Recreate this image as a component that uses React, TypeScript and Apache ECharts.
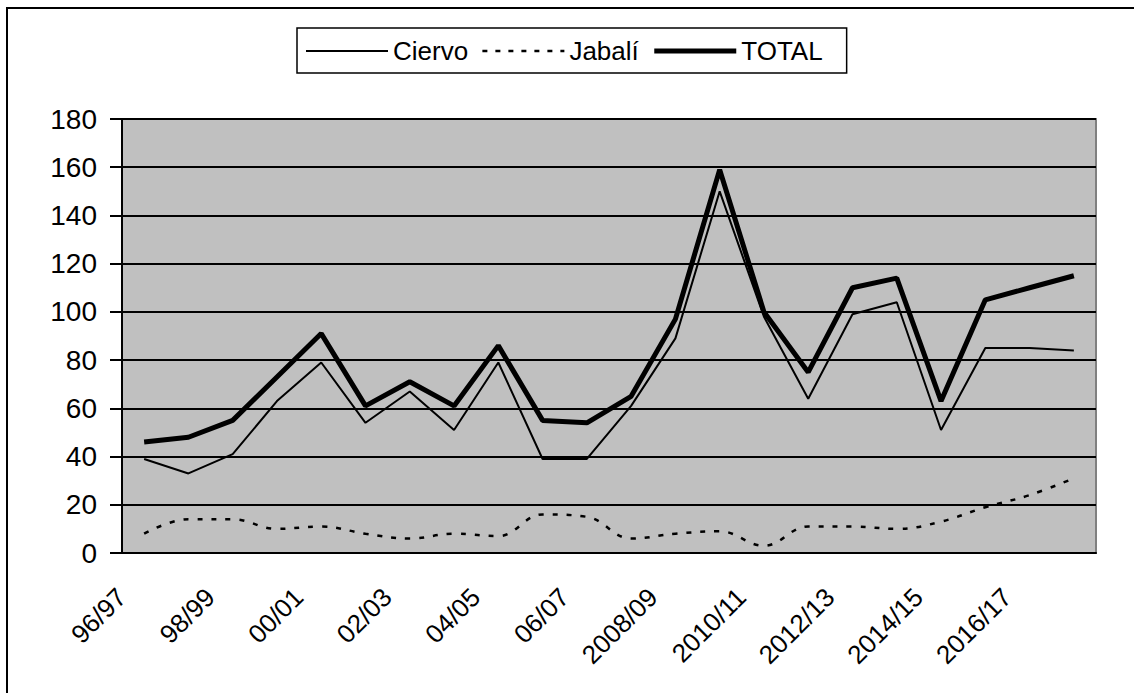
import React, { useEffect, useRef } from "react";
import * as echarts from "echarts";

const categories = [
  "96/97", "97/98", "98/99", "99/00", "00/01", "01/02", "02/03", "03/04",
  "04/05", "05/06", "06/07", "07/08", "2008/09", "2009/10", "2010/11", "2011/12",
  "2012/13", "2013/14", "2014/15", "2015/16", "2016/17", "2017/18",
];
const ciervo = [39, 33, 41, 63, 79, 54, 67, 51, 79, 39, 39, 61, 89, 150, 98, 64, 99, 104, 51, 85, 85, 84];
const jabali = [8, 14, 14, 10, 11, 8, 6, 8, 7, 16, 15, 6, 8, 9, 3, 11, 11, 10, 13, 19, 24, 31];
const total = [46, 48, 55, 73, 91, 61, 71, 61, 86, 55, 54, 65, 97, 159, 100, 75, 110, 114, 63, 105, 110, 115];
const seriesNames = ["Ciervo", "Jabalí", "TOTAL"];

const FONT = "'Liberation Sans', Arial, sans-serif";
const hiddenSymbol = { color: "rgba(0,0,0,0)", borderWidth: 0, opacity: 0 };

export default function App() {
  const ref = useRef<HTMLDivElement>(null);
  useEffect(() => {
    if (!ref.current) return;
    const chart = echarts.init(ref.current, undefined, { renderer: "svg" });
    chart.setOption({
      animation: false,
      backgroundColor: "#ffffff",
      textStyle: { fontFamily: FONT, color: "#000" },
      graphic: [
        {
          type: "rect",
          shape: { x: 7, y: 8, width: 1300, height: 900 },
          style: { fill: "none", stroke: "#000", lineWidth: 2 },
          z: 100,
        },
      ],
      legend: {
        left: 297,
        top: 28,
        orient: "horizontal",
        itemWidth: 82,
        itemHeight: 14,
        itemGap: 13,
        padding: [10, 24, 9, 8],
        borderColor: "#000",
        borderWidth: 1.5,
        backgroundColor: "#fff",
        textStyle: { fontFamily: FONT, fontSize: 26, color: "#000" },
        data: [
          { name: seriesNames[0], itemStyle: hiddenSymbol, lineStyle: { color: "#000", width: 2, type: "solid" } },
          { name: seriesNames[1], itemStyle: hiddenSymbol, lineStyle: { color: "#000", width: 2.5, type: [5, 8] } },
          { name: seriesNames[2], itemStyle: hiddenSymbol, lineStyle: { color: "#000", width: 5, type: "solid" } },
        ],
      },
      grid: {
        left: 122,
        right: 38,
        top: 119,
        bottom: 140,
        show: true,
        backgroundColor: "#c0c0c0",
        borderColor: "#808080",
        borderWidth: 2,
      },
      xAxis: {
        type: "category",
        data: categories,
        boundaryGap: true,
        axisLine: { lineStyle: { color: "#000", width: 2 } },
        axisTick: { interval: 0, length: 10, lineStyle: { color: "#000", width: 2 } },
        axisLabel: {
          interval: 1,
          rotate: 45,
          margin: 17,
          padding: [0, 32, 0, 0],
          fontSize: 26,
          fontFamily: FONT,
          color: "#000",
        },
        splitLine: { show: false },
      },
      yAxis: {
        type: "value",
        min: 0,
        max: 180,
        interval: 20,
        axisLine: { show: true, lineStyle: { color: "#000", width: 2 } },
        axisTick: { show: true, length: 12, lineStyle: { color: "#000", width: 2 } },
        axisLabel: { margin: 25, fontSize: 28, fontFamily: FONT, color: "#000" },
        splitLine: { show: true, lineStyle: { color: "#000", width: 2 } },
      },
      series: [
        {
          name: seriesNames[0],
          type: "line",
          data: ciervo,
          symbol: "none",
          lineStyle: { color: "#000", width: 2 },
          itemStyle: { color: "#000" },
        },
        {
          name: seriesNames[1],
          type: "line",
          data: jabali,
          symbol: "none",
          smooth: 0.4,
          lineStyle: { color: "#000", width: 2.5, type: [5, 9] },
          itemStyle: { color: "#000" },
        },
        {
          name: seriesNames[2],
          type: "line",
          data: total,
          symbol: "none",
          lineStyle: { color: "#000", width: 5 },
          itemStyle: { color: "#000" },
        },
      ],
    });
    return () => chart.dispose();
  }, []);
  return (
    <div
      ref={ref}
      style={{ position: "fixed", left: 0, top: 0, width: 1134, height: 693 }}
    />
  );
}
